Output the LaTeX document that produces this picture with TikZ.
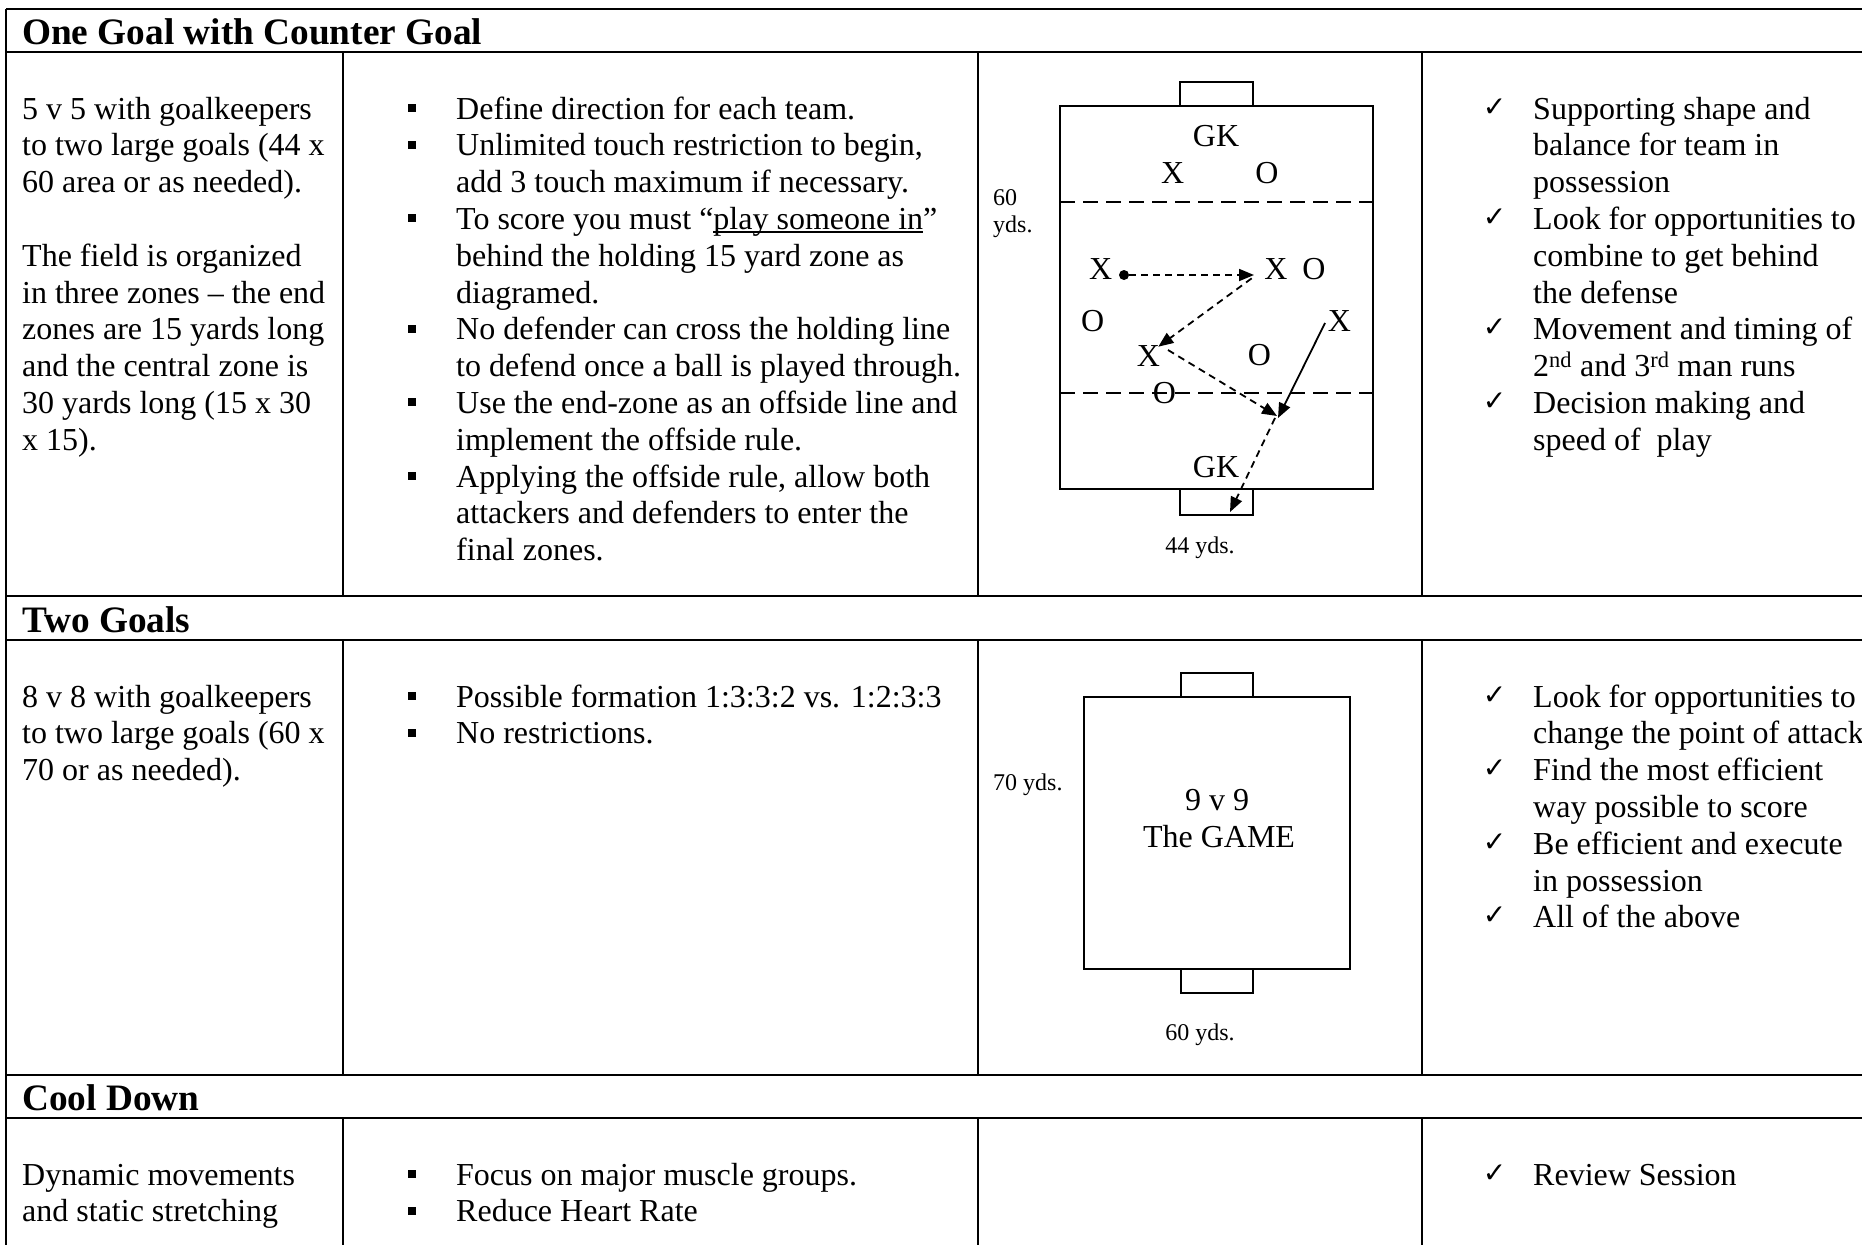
\documentclass[tikz,border=0pt]{standalone}
\usepackage{fontspec}
\setmainfont{Liberation Serif}
\newfontfamily\dejavu{DejaVu Sans}
\usetikzlibrary{arrows.meta}
\newcommand\sqbul{\makebox[0pt][r]{\rule[7pt]{8pt}{8pt}\hspace{40pt}}}
\newcommand\chkmk{\makebox[0pt][r]{\raisebox{3pt}{\dejavu\fontsize{28}{28}\selectfont ✓}\hspace{27pt}}}
\newcommand\myul[1]{\setbox0\hbox{#1}\rlap{\rule[-3.5pt]{\wd0}{1.6pt}}\box0}
\begin{document}
\begin{tikzpicture}[x=1pt,y=-1pt,
  grid/.style={line width=2.4pt},
  body/.style={anchor=base west, inner sep=0pt, font=\fontsize{32}{36.8}\selectfont},
  head/.style={anchor=base west, inner sep=0pt, font=\fontsize{37.3}{43}\selectfont\bfseries},
  small/.style={inner sep=0pt, font=\fontsize{24}{27.6}\selectfont},
  pl/.style={inner sep=0pt, font=\fontsize{32}{36.8}\selectfont},
  fld/.style={line width=2pt},
  zone/.style={line width=2pt, dash pattern=on 15pt off 8pt},
  pass/.style={line width=1.8pt, dash pattern=on 7pt off 5pt, -{Triangle[length=15pt,width=12pt]}},
  run/.style={line width=1.8pt, -{Triangle[length=15pt,width=12pt]}},
]
\useasboundingbox (0,0) rectangle (1862,1245);
% table grid
\draw[grid] (6,9) -- (1862,9);
\draw[grid] (6,9) -- (6,1245);
\foreach \yy in {52,596,640,1075,1118} {\draw[grid] (6,\yy) -- (1862,\yy);}
\foreach \xx in {343,978,1422} {
  \draw[grid] (\xx,52) -- (\xx,596);
  \draw[grid] (\xx,640) -- (\xx,1075);
  \draw[grid] (\xx,1118) -- (\xx,1245);
}
% headers
\node[head] (h1) at (22,44) {One Goal with Counter Goal};
\node[head] (h2) at (22,632) {Two Goals};
\node[head] (h3) at (22,1110) {Cool Down};
% row 1
\node[body] (r1a) at (22,119) {\parbox[t]{315pt}{\raggedright
5 v 5 with goalkeepers\\
to two large goals (44 x\\
60 area or as needed).\\
\strut\\
The field is organized\\
in three zones -- the end\\
zones are 15 yards long\\
and the central zone is\\
30 yards long (15 x 30\\
x 15).}};
\node[body] (r1b) at (456,119) {\parbox[t]{600pt}{\raggedright
\sqbul Define direction for each team.\\
\sqbul Unlimited touch restriction to begin,\\
add 3 touch maximum if necessary.\\
\sqbul To score you must “\myul{play someone in}”\\
behind the holding 15 yard zone as\\
diagramed.\\
\sqbul No defender can cross the holding line\\
to defend once a ball is played through.\\
\sqbul Use the end-zone as an offside line and\\
implement the offside rule.\\
\sqbul Applying the offside rule, allow both\\
attackers and defenders to enter the\\
final zones.}};
\node[body] (r1d) at (1533,119) {\parbox[t]{500pt}{\raggedright
\chkmk Supporting shape and\\
balance for team in\\
possession\\
\chkmk Look for opportunities to\\
combine to get behind\\
the defense\\
\chkmk Movement and timing of\\
2\textsuperscript{nd} and 3\textsuperscript{rd} man runs\\
\chkmk Decision making and\\
speed of\ \ play}};
% diagram 1
\draw[fld] (1060,105.7) rectangle (1373,489);
\draw[fld] (1180,81.7) rectangle (1253,105.7);
\draw[fld] (1180,489) rectangle (1253,515);
\draw[zone] (1060,201.7) -- (1373,201.7);
\draw[zone] (1060,392.7) -- (1373,392.7);
\node[small, anchor=base west] (d1a) at (993,205) {60};
\node[small, anchor=base west] (d1b) at (993,232) {yds.};
\node[small, anchor=base] (d1c) at (1200,553) {44 yds.};
\node[pl] (gk1) at (1216,136) {GK};
\node[pl] (x1) at (1172.7,172.7) {X};
\node[pl] (o1) at (1267,172.7) {O};
\node[pl] (x2) at (1100.7,269.3) {X};
\node[pl] (x3) at (1276,269.3) {X};
\node[pl] (o2) at (1314,269.3) {O};
\node[pl] (o3) at (1092.7,320.7) {O};
\node[pl] (x4) at (1339.3,320.7) {X};
\node[pl] (x5) at (1148.3,356) {X};
\node[pl] (o4) at (1259.3,355) {O};
\node[pl] (o5) at (1164.3,392.7) {O};
\node[pl] (gk2) at (1216,467.3) {GK};
\node[circle, fill, inner sep=0pt, minimum size=10pt] (ball) at (1124,275) {};
\coordinate (p1) at (1254,275);
\coordinate (a2s) at (1251.7,278.3);
\coordinate (a2e) at (1158.3,346.7);
\coordinate (a3s) at (1168,350);
\coordinate (a3e) at (1277,416);
\coordinate (a4s) at (1325,323);
\coordinate (a4e) at (1278,418);
\coordinate (a5s) at (1275,418);
\coordinate (a5e) at (1230,512);
\draw[pass] (ball) -- (p1);
\draw[pass] (a2s) -- (a2e);
\draw[pass] (a3s) -- (a3e);
\draw[run] (a4s) -- (a4e);
\draw[pass] (a5s) -- (a5e);
% row 2
\node[body] (r2a) at (22,707) {\parbox[t]{315pt}{\raggedright
8 v 8 with goalkeepers\\
to two large goals (60 x\\
70 or as needed).}};
\node[body] (r2b) at (456,707) {\parbox[t]{600pt}{\raggedright
\sqbul Possible formation 1:3:3:2 vs. 1:2:3:3\\
\sqbul No restrictions.}};
\node[body] (r2d) at (1533,707) {\parbox[t]{500pt}{\raggedright
\chkmk Look for opportunities to\\
change the point of attack\\
\chkmk Find the most efficient\\
way possible to score\\
\chkmk Be efficient and execute\\
in possession\\
\chkmk All of the above}};
% diagram 2
\draw[fld] (1084.3,697.3) rectangle (1350,969.3);
\draw[fld] (1180.7,672.7) rectangle (1252.7,697.3);
\draw[fld] (1180.7,969.3) rectangle (1252.7,993.3);
\node[small, anchor=base west] (d2a) at (993,790) {70 yds.};
\node[pl, anchor=base] (g1) at (1217,810.7) {9 v 9};
\node[pl, anchor=base] (g2) at (1219,847.3) {The GAME};
\node[small, anchor=base] (d2c) at (1200,1040) {60 yds.};
% row 3
\node[body] (r3a) at (22,1185) {\parbox[t]{315pt}{\raggedright
Dynamic movements\\
and static stretching}};
\node[body] (r3b) at (456,1185) {\parbox[t]{600pt}{\raggedright
\sqbul Focus on major muscle groups.\\
\sqbul Reduce Heart Rate}};
\node[body] (r3d) at (1533,1185) {\chkmk Review Session};
\end{tikzpicture}
\end{document}
